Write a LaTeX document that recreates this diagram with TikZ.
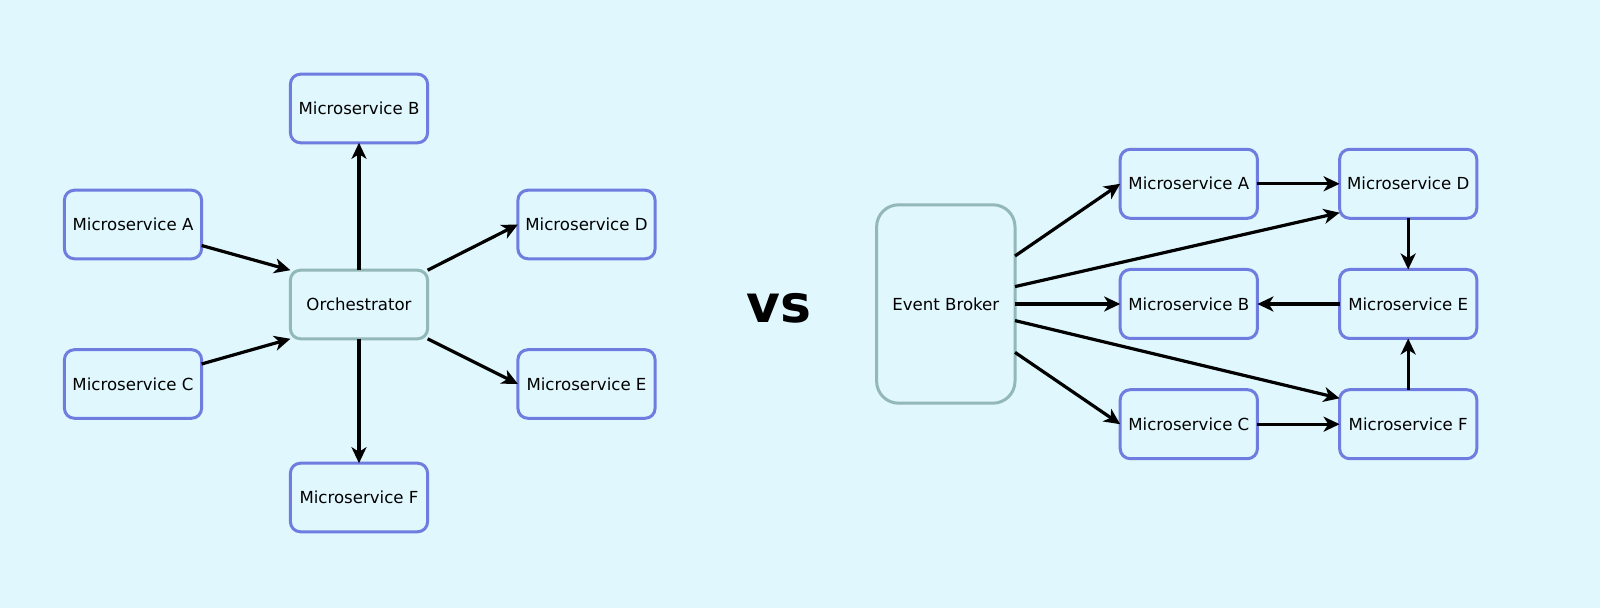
\documentclass[tikz,border=0pt]{standalone}
\usepackage{fontspec}
\setmainfont{DejaVu Sans}
\usetikzlibrary{arrows.meta}
\definecolor{bgc}{HTML}{E0F7FD}
\definecolor{svc}{HTML}{6F7CE0}
\definecolor{hub}{HTML}{92B8B8}
\tikzset{
  svcbox/.style={draw=svc, line width=1.5pt, fill=bgc, rounded corners=5pt,
    minimum width=68.6pt, minimum height=34.3pt, inner sep=0pt, outer sep=0pt,
    font=\fontsize{8.3pt}{10pt}\selectfont},
  hubbox/.style={draw=hub, line width=1.5pt, fill=bgc, rounded corners=5pt,
    minimum width=68.6pt, minimum height=34.3pt, inner sep=0pt, outer sep=0pt,
    font=\fontsize{8.3pt}{10pt}\selectfont},
  conn/.style={line width=1.6pt, -{Stealth[length=8pt,width=7.5pt,inset=2.3pt]}}
}
\begin{document}
\begin{tikzpicture}[x=0.5pt,y=-0.5pt]
\fill[bgc] (0,0) rectangle (1600,608);
\useasboundingbox (0,0) rectangle (1600,608);
% ---------- left: orchestration ----------
\node[hubbox] (O) at (359,304.5) {Orchestrator};
\node[svcbox] (LB) at (359,108.5) {Microservice B};
\node[svcbox] (LA) at (133,224.5) {Microservice A};
\node[svcbox] (LD) at (586.5,224.5) {Microservice D};
\node[svcbox] (LC) at (133,384) {Microservice C};
\node[svcbox] (LE) at (586.5,384) {Microservice E};
\node[svcbox] (LF) at (359,497.5) {Microservice F};
\draw[conn] ([yshift=-10.5pt]LA.east) -- (O.north west);
\draw[conn] ([yshift=10pt]LC.east) -- (O.south west);
\draw[conn] (O.north) -- (LB.south);
\draw[conn] (O.south) -- (LF.north);
\draw[conn] (O.north east) -- (LD.west);
\draw[conn] (O.south east) -- (LE.west);
% ---------- vs ----------
\node[font=\fontsize{26pt}{30pt}\selectfont\bfseries, inner sep=0pt] (vs) at (779,308.5) {vs};
% ---------- right: choreography ----------
\node[hubbox, rounded corners=11pt, minimum width=69.2pt, minimum height=99.2pt] (EB) at (945.8,304) {Event Broker};
\node[svcbox, minimum height=34.5pt] (RA) at (1188.8,183.8) {Microservice A};
\node[svcbox, minimum height=34.5pt] (RD) at (1408.2,183.8) {Microservice D};
\node[svcbox, minimum height=34.5pt] (RB) at (1188.8,304) {Microservice B};
\node[svcbox, minimum height=34.5pt] (RE) at (1408.2,304) {Microservice E};
\node[svcbox, minimum height=34.5pt] (RC) at (1188.8,424.2) {Microservice C};
\node[svcbox, minimum height=34.5pt] (RF) at (1408.2,424.2) {Microservice F};
\draw[conn] ([yshift=24pt]EB.east) -- (RA.west);
\draw[conn] ([yshift=8.7pt]EB.east) -- ([yshift=2.8pt]RD.south west);
\draw[conn] (EB.east) -- (RB.west);
\draw[conn] ([yshift=-8.3pt]EB.east) -- ([yshift=-4.3pt]RF.north west);
\draw[conn] ([yshift=-24.2pt]EB.east) -- (RC.west);
\draw[conn] (RA.east) -- (RD.west);
\draw[conn] (RD.south) -- (RE.north);
\draw[conn] (RE.west) -- (RB.east);
\draw[conn] (RF.north) -- (RE.south);
\draw[conn] (RC.east) -- (RF.west);
\end{tikzpicture}
\end{document}
